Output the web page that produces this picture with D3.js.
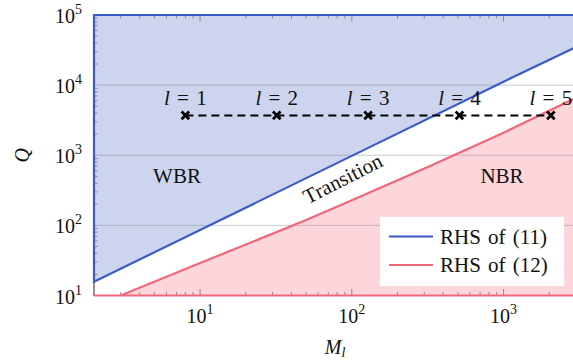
<!DOCTYPE html>
<html><head><meta charset="utf-8">
<script src="https://cdn.jsdelivr.net/npm/d3@7"></script>
<style>
body{margin:0;background:#fff;}
text{font-family:"Liberation Serif","Times New Roman",serif;fill:#111;}
</style></head>
<body><svg id="c" width="573" height="362"></svg>
<script>
// ---- data ----
const blueM = [2, 10, 100, 1000, 3000];
const blueQ = [15.7, 86, 980, 11200, 35000];
const redM = [3, 10, 50, 100, 328, 1000, 3000];
const redQ = [10, 29, 119, 228, 700, 2100, 6600];
const levels = [1, 2, 3, 4, 5];
const levelM = [8, 32, 128, 512, 2048];
const levelQ = [3700, 3700, 3700, 3700, 3700];
const xTickVals = [10, 100, 1000];
const xTickExp = ["1", "2", "3"];
const yTickVals = [10, 100, 1000, 10000, 100000];
const yTickExp = ["1", "2", "3", "4", "5"];
const legendLabels = ["RHS of (11)", "RHS of (12)"];
const regionLabels = ["WBR", "Transition", "NBR"];

const blueLine = "#3b5bc6", redLine = "#f0667a";
const blueFill = "#cdd5ee", redFill = "#fdd6dc";

const svg = d3.select("#c");
const L = 94, R = 576, T = 15, B = 295.5;
const x = d3.scaleLog().domain([2, 3000]).range([L, R]);
const y = d3.scaleLog().domain([10, 1e5]).range([B, T]);

const blue = blueM.map((m, i) => [m, blueQ[i]]);
const red = redM.map((m, i) => [m, redQ[i]]);
const line = d3.line().x(d => x(d[0])).y(d => y(d[1]));

const bluePoly = blue.concat([[3000, 1e5], [2, 1e5]]);
const redPoly = [[2, 10]].concat(red).concat([[3000, 10]]);

// fills
svg.append("path").attr("d", line(bluePoly) + "Z").attr("fill", blueFill);
svg.append("path").attr("d", line(redPoly) + "Z").attr("fill", redFill);

// gridlines
svg.append("g").selectAll("line").data([100, 1000, 10000]).join("line")
  .attr("x1", L).attr("x2", R).attr("y1", d => y(d)).attr("y2", d => y(d))
  .attr("stroke", "#7a7a88").attr("stroke-opacity", 0.4).attr("stroke-width", 1);

// ticks
const xMinor = [], yMinor = [];
for (let k = 0; k <= 3; k++) for (let j = 2; j <= 9; j++) { const v = j * Math.pow(10, k); if (v > 2 && v < 3000) xMinor.push(v); }
for (let k = 1; k <= 4; k++) for (let j = 2; j <= 9; j++) yMinor.push(j * Math.pow(10, k));
const tg = svg.append("g").attr("stroke", "#8a8a8a").attr("stroke-width", 1);
xMinor.forEach(v => {
  tg.append("line").attr("x1", x(v)).attr("x2", x(v)).attr("y1", B).attr("y2", B - 3.5);
  tg.append("line").attr("x1", x(v)).attr("x2", x(v)).attr("y1", T).attr("y2", T + 3.5);
});
xTickVals.forEach(v => {
  tg.append("line").attr("x1", x(v)).attr("x2", x(v)).attr("y1", B).attr("y2", B - 6.5);
  tg.append("line").attr("x1", x(v)).attr("x2", x(v)).attr("y1", T).attr("y2", T + 6.5);
});
yMinor.forEach(v => {
  tg.append("line").attr("x1", L).attr("x2", L + 3.5).attr("y1", y(v)).attr("y2", y(v));
});

// frame
svg.append("rect").attr("x", L).attr("y", T).attr("width", R - L).attr("height", B - T)
  .attr("fill", "none").attr("stroke", "#222").attr("stroke-width", 1);

// polygon outlines (closed)
svg.append("path").attr("d", line(bluePoly) + "Z").attr("fill", "none").attr("stroke", blueLine).attr("stroke-width", 2.2);
svg.append("path").attr("d", line(redPoly) + "Z").attr("fill", "none").attr("stroke", redLine).attr("stroke-width", 2.2);

// dashed level line
const lv = levelM.map((m, i) => [m, levelQ[i]]);
svg.append("path").attr("d", line(lv)).attr("fill", "none").attr("stroke", "#000")
  .attr("stroke-width", 2).attr("stroke-dasharray", "8,5");
const mk = svg.append("g").attr("stroke", "#000").attr("stroke-width", 2.8);
lv.forEach(d => {
  const cx = x(d[0]), cy = y(d[1]), s = 3.8;
  mk.append("line").attr("x1", cx - s).attr("x2", cx + s).attr("y1", cy - s).attr("y2", cy + s);
  mk.append("line").attr("x1", cx - s).attr("x2", cx + s).attr("y1", cy + s).attr("y2", cy - s);
});
lv.forEach((d, i) => {
  const t = svg.append("text").attr("x", x(d[0])).attr("y", y(d[1]) - 10)
    .attr("text-anchor", "middle").attr("font-size", 21).attr("word-spacing", 2);
  t.append("tspan").attr("font-style", "italic").text("l");
  t.append("tspan").text(" = " + levels[i]);
});

// tick labels
xTickVals.forEach((v, i) => {
  const t = svg.append("text").attr("x", x(v)).attr("y", 323).attr("text-anchor", "middle").attr("font-size", 20);
  t.append("tspan").text("10");
  t.append("tspan").attr("font-size", 14).attr("dy", -9).text(xTickExp[i]);
});
yTickVals.forEach((v, i) => {
  const t = svg.append("text").attr("x", 82).attr("y", y(v) + 8).attr("text-anchor", "end").attr("font-size", 20);
  t.append("tspan").text("10");
  t.append("tspan").attr("font-size", 14).attr("dy", -9).text(yTickExp[i]);
});

// axis titles
const xl = svg.append("text").attr("x", (L + R) / 2).attr("y", 354).attr("text-anchor", "middle").attr("font-size", 20).attr("font-style", "italic");
xl.append("tspan").text("M");
xl.append("tspan").attr("font-size", 14).attr("dy", 3).text("l");
svg.append("text").attr("transform", `translate(29,${(T + B) / 2}) rotate(-90)`)
  .attr("text-anchor", "middle").attr("font-size", 20).attr("font-style", "italic").text("Q");

// region labels
svg.append("text").attr("x", 177).attr("y", 183).attr("text-anchor", "middle").attr("font-size", 21).text(regionLabels[0]);
svg.append("text").attr("transform", "translate(346,185) rotate(-27)").attr("text-anchor", "middle").attr("font-size", 21).text(regionLabels[1]);
svg.append("text").attr("x", 502).attr("y", 183).attr("text-anchor", "middle").attr("font-size", 21).text(regionLabels[2]);

// legend
const lg = svg.append("g");
lg.append("rect").attr("x", 380).attr("y", 217).attr("width", 184).attr("height", 69).attr("fill", "#fff");
[blueLine, redLine].forEach((c, i) => {
  const yy = 236.5 + i * 28.5;
  lg.append("line").attr("x1", 389).attr("x2", 433).attr("y1", yy).attr("y2", yy).attr("stroke", c).attr("stroke-width", 2);
  lg.append("text").attr("x", 440).attr("y", yy + 7).attr("font-size", 21).attr("word-spacing", 2).text(legendLabels[i]);
});
</script></body></html>
